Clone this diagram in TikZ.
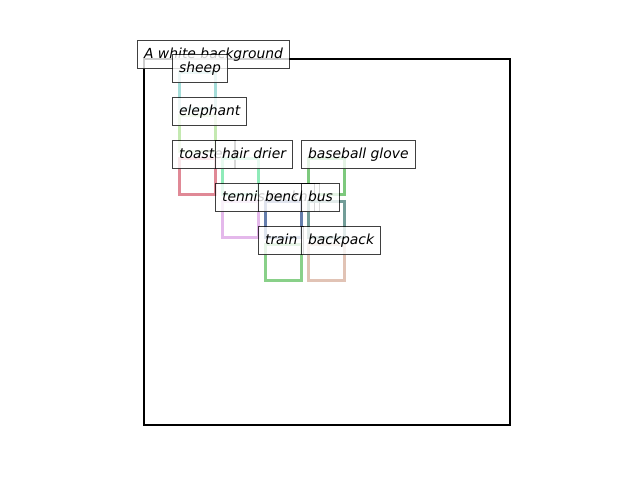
\documentclass[tikz,border=0pt]{standalone}
\usepackage{fontspec}
\newfontfamily\lblfont{DejaVu Sans}
\definecolor{csheep}{HTML}{8FD4CF}
\definecolor{celeph}{HTML}{B5E39D}
\definecolor{ctoast}{HTML}{D86C7C}
\definecolor{chair}{HTML}{73E6A8}
\definecolor{cglove}{HTML}{5DBB5D}
\definecolor{ctennis}{HTML}{DDA6E6}
\definecolor{cbench}{HTML}{3F5E99}
\definecolor{cbus}{HTML}{4F847E}
\definecolor{ctrain}{HTML}{6CC46C}
\definecolor{cbpack}{HTML}{D9B4A2}
\tikzset{
  lbl/.style={draw=black, draw opacity=0.75, fill=white, fill opacity=0.8, text opacity=1,
    font=\lblfont\itshape\fontsize{13.9}{16}\selectfont, anchor=north west,
    minimum height=28pt, inner xsep=6.5pt, inner ysep=0pt, text height=10pt, text depth=3pt,
    line width=1.1pt},
  bbox/.style={line width=3pt, draw opacity=0.8},
}
\begin{document}
\begin{tikzpicture}[x=1pt,y=-1pt]
\useasboundingbox (0,0) rectangle (640,480);
\draw[line width=2.5pt] (144,59) rectangle (510,425);
\node[lbl] (bg) at (137,40) {A white background};
% sheep
\draw[bbox, csheep] (179,72) rectangle (215,108);
\node[lbl] (sheep) at (172,54) {sheep};
% elephant
\draw[bbox, celeph] (179,115) rectangle (215,151);
\node[lbl] (eleph) at (172,97) {elephant};
% toaster
\draw[bbox, ctoast] (179,158) rectangle (215,194);
\node[lbl] (toast) at (172,140) {toaster};
% hair drier
\draw[bbox, chair] (222,158) rectangle (258,194);
\node[lbl] (hair) at (215,140) {hair drier};
% baseball glove
\draw[bbox, cglove] (308,158) rectangle (344,194);
\node[lbl] (glove) at (301,140) {baseball glove};
% tennis racket
\draw[bbox, ctennis] (222,201) rectangle (258,237);
\node[lbl] (tennis) at (215,183) {tennis racket};
% bench
\draw[bbox, cbench] (265,201) rectangle (301,237);
\node[lbl] (bench) at (258,183) {bench};
% bus
\draw[bbox, cbus] (308,201) rectangle (344,237);
\node[lbl] (bus) at (301,183) {bus};
% train
\draw[bbox, ctrain] (265,244) rectangle (301,280);
\node[lbl] (train) at (258,226) {train};
% backpack
\draw[bbox, cbpack] (308,244) rectangle (344,280);
\node[lbl] (bpack) at (301,226) {backpack};
\end{tikzpicture}
\end{document}
